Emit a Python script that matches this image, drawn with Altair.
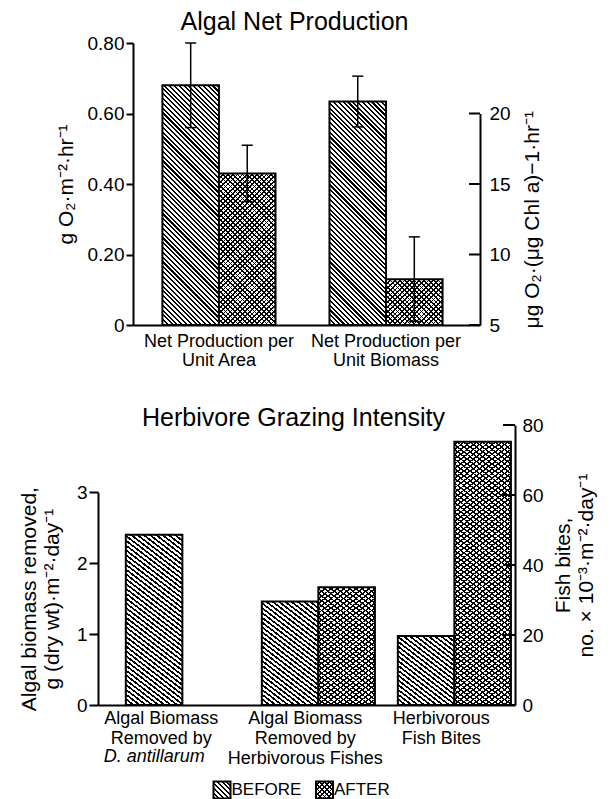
import math
import altair as alt
import pandas as pd

FONT = "Liberation Sans"

# ---------------- data ----------------
periods = ["BEFORE", "AFTER"]

top_categories = ["Net Production per|Unit Area", "Net Production per|Unit Biomass"]
area_values = [0.68, 0.43]          # g O2 m-2 hr-1 (left axis)
area_errors = [0.12, 0.08]
biomass_values = [20.85, 8.25]      # ug O2 (ug Chl a)-1 hr-1 (right axis)
biomass_errors = [1.8, 3.0]
top_left_ticks = [0, 0.2, 0.4, 0.6, 0.8]
top_right_ticks = [5, 10, 15, 20]

bottom_categories = [
    "Algal Biomass|Removed by",
    "Algal Biomass|Removed by|Herbivorous Fishes",
    "Herbivorous|Fish Bites",
]
urchin_periods = ["BEFORE"]
urchin_values = [2.40]              # g (dry wt) m-2 day-1 (left axis)
fishes_values = [1.46, 1.66]        # g (dry wt) m-2 day-1 (left axis)
bites_values = [19.7, 75.2]         # no. x 10^-3 m-2 day-1 (right axis)
bottom_left_ticks = [0, 1, 2, 3]
bottom_right_ticks = [0, 20, 40, 60, 80]
species_note = "D. antillarum"

# ---------------- layout ----------------
TW, TH, TEXTRA = 347, 282, 24
BW, BH = 417, 280
LW, LH = 271.5, 18
LEG_STEP = 102.5
TOP_PI, TOP_PO = 0.323, 0.2
BOT_PI, BOT_PO = 0.36, 0.213
TR_TOP = TH - 15 * TH / 20
BL_TOP = BH - 3 * 70.9
CLEAR = "rgba(0,0,0,0)"


def stripes(w, h, slope, ink="black", gap="white", period=3.4, thick=1.5):
    span = (w + h) / math.sqrt(2)
    c = (w + h) / (w * w + h * h)
    if slope > 0:
        x1, y1, x2, y2 = 0, 1, c * w, 1 - c * h
    else:
        x1, y1, x2, y2 = 1, 1, 1 - c * w, 1 - c * h
    p, t = period / span, thick / span
    stops = []
    k = 0
    while k * p < 1:
        a = k * p
        b = min(a + t, 1)
        n = min(a + p, 1)
        stops += [
            {"offset": round(a, 5), "color": ink},
            {"offset": round(b, 5), "color": ink},
            {"offset": round(b, 5), "color": gap},
            {"offset": round(n, 5), "color": gap},
        ]
        k += 1
    return {"gradient": "linear", "x1": x1, "y1": y1, "x2": x2, "y2": y2, "stops": stops}


def bar_width(W, n, pi, po):
    step = W / (n - pi + 2 * po)
    return step * (1 - pi) / 2


XO = alt.XOffset("period:N", scale=alt.Scale(domain=periods, paddingInner=0, paddingOuter=0))

# ---------------- scales & axes ----------------
TL_SCALE = alt.Scale(domain=[0, 0.8], range=[TH, 0], nice=False, zero=False)
TR_SCALE = alt.Scale(domain=[5, 20], range=[TH, TR_TOP], nice=False, zero=False)
BL_SCALE = alt.Scale(domain=[0, 3], range=[BH, BL_TOP], nice=False, zero=False)
BR_SCALE = alt.Scale(domain=[0, 80], range=[BH, 0], nice=False, zero=False)

TOP_X = alt.X(
    "cat:N",
    scale=alt.Scale(domain=top_categories, paddingInner=TOP_PI, paddingOuter=TOP_PO, align=0.44),
    axis=alt.Axis(title=None, labelExpr="split(datum.label, '|')", ticks=False, labelAngle=0,
                  labelFontSize=18, labelLineHeight=19, labelPadding=7, domainWidth=2,
                  offset=-TEXTRA, labelOverlap=False),
)
BOT_X = alt.X(
    "cat:N",
    scale=alt.Scale(domain=bottom_categories, paddingInner=BOT_PI, paddingOuter=BOT_PO, align=0.48),
    axis=alt.Axis(title=None, labelExpr="split(datum.label, '|')", ticks=False, labelAngle=0,
                  labelFontSize=18, labelLineHeight=20, labelPadding=4, domainWidth=2,
                  labelOverlap=False,
                  labelOffset={"condition": {"test": f"datum.value == '{bottom_categories[0]}'", "value": -8},
                               "value": 0}),
)

TL_AXIS = alt.Axis(orient="left", values=top_left_ticks,
                   labelExpr="datum.value == 0 ? '0' : format(datum.value, '.2f')",
                   tickSize=7, tickWidth=2, domainWidth=2, labelPadding=2, labelFontSize=19,
                   title="g O₂·m⁻²·hr⁻¹", titleFontSize=21, titleAngle=270,
                   titleBaseline="middle", titleX=-67)
TR_AXIS = alt.Axis(orient="right", values=top_right_ticks, ticks=False, tickSize=0, domainWidth=2,
                   labelPadding=9, labelFontSize=19,
                   title="μg O₂·(μg Chl a)−1·hr⁻¹", titleFontSize=21, titleAngle=270,
                   titleBaseline="middle", titleX=52)
BL_AXIS = alt.Axis(orient="left", values=bottom_left_ticks, format="d", tickSize=9, tickWidth=2,
                   domainWidth=2, labelPadding=2, labelFontSize=19,
                   title=["Algal biomass removed,", "g (dry wt)·m⁻²·day⁻¹"], titleFontSize=21,
                   titleLineHeight=23, titleAngle=270, titleBaseline="middle", titleX=-68.5)
BR_AXIS = alt.Axis(orient="right", values=bottom_right_ticks, format="d", ticks=False, tickSize=0,
                   domainWidth=2, labelPadding=7, labelFontSize=19,
                   title=["Fish bites,", "no. × 10⁻³·m⁻²·day⁻¹"], titleFontSize=21,
                   titleLineHeight=23, titleAngle=270, titleBaseline="middle", titleX=48)


def bars(df, x, yscale, yaxis, ppu, base, w, y2=None):
    out = []
    for i in range(len(df)):
        one = df.iloc[[i]]
        v = float(one["value"].iloc[0])
        p = one["period"].iloc[0]
        h = (v - base) * ppu
        enc = {"x": x, "xOffset": XO, "y": alt.Y("value:Q", scale=yscale, axis=yaxis)}
        if y2 is not None:
            enc["y2"] = y2
        if p == "BEFORE":
            out.append(alt.Chart(one).mark_bar(fill=stripes(w, h, 1), stroke="black",
                                               strokeWidth=2).encode(**enc))
        else:
            out.append(alt.Chart(one).mark_bar(fill=stripes(w, h, 1, thick=1.2)).encode(**enc))
            out.append(alt.Chart(one).mark_bar(fill=stripes(w, h, -1, gap=CLEAR, thick=1.2),
                                               stroke="black", strokeWidth=2).encode(**enc))
    return out


def errs(df, x, yscale, yaxis):
    rule = alt.Chart(df).mark_rule(color="black", strokeWidth=1.5).encode(
        x=x, xOffset=XO, y=alt.Y("lo:Q", scale=yscale, axis=yaxis), y2="hi:Q")
    cap_hi = alt.Chart(df).mark_tick(orient="horizontal", size=11, thickness=1.5, color="black",
                                     opacity=1).encode(
        x=x, xOffset=XO, y=alt.Y("hi:Q", scale=yscale, axis=yaxis))
    cap_lo = alt.Chart(df).mark_tick(orient="horizontal", size=11, thickness=1.5, color="black",
                                     opacity=1).encode(
        x=x, xOffset=XO, y=alt.Y("lo:Q", scale=yscale, axis=yaxis))
    return [rule, cap_hi, cap_lo]


def inward_ticks(values, yscale, yaxis, W, length):
    return alt.Chart(pd.DataFrame({"t": values})).mark_rule(color="black", strokeWidth=2).encode(
        y=alt.Y("t:Q", scale=yscale, axis=yaxis), x=alt.value(W - length), x2=alt.value(W))


# ---------------- top chart ----------------
tl_df = pd.DataFrame({"cat": top_categories[0], "period": periods, "value": area_values, "err": area_errors})
tr_df = pd.DataFrame({"cat": top_categories[1], "period": periods, "value": biomass_values, "err": biomass_errors})
for d in (tl_df, tr_df):
    d["lo"] = d["value"] - d["err"]
    d["hi"] = d["value"] + d["err"]

top_bw = bar_width(TW, 2, TOP_PI, TOP_PO)
top_left = alt.layer(*bars(tl_df, TOP_X, TL_SCALE, TL_AXIS, TH / 0.8, 0, top_bw),
                     *errs(tl_df, TOP_X, TL_SCALE, TL_AXIS))
top_right = alt.layer(*bars(tr_df, TOP_X, TR_SCALE, TR_AXIS, (TH - TR_TOP) / 15, 5, top_bw,
                            y2=alt.Y2(datum=5)),
                      *errs(tr_df, TOP_X, TR_SCALE, TR_AXIS),
                      inward_ticks(top_right_ticks, TR_SCALE, TR_AXIS, TW, 11))
top = alt.layer(top_left, top_right).resolve_scale(y="independent").properties(
    width=TW, height=TH + TEXTRA,
    title=alt.TitleParams("Algal Net Production", fontSize=25, fontWeight="normal", font=FONT,
                          anchor="middle", frame="group", offset=-1, dx=-12),
)

# ---------------- bottom chart ----------------
bl_df = pd.DataFrame({
    "cat": [bottom_categories[0]] * len(urchin_values) + [bottom_categories[1]] * len(fishes_values),
    "period": urchin_periods + periods,
    "value": urchin_values + fishes_values,
})
br_df = pd.DataFrame({"cat": bottom_categories[2], "period": periods, "value": bites_values})
note_df = pd.DataFrame({"cat": [bottom_categories[0]], "note": [species_note]})

bot_bw = bar_width(BW, 3, BOT_PI, BOT_PO)
note = alt.Chart(note_df).mark_text(font=FONT, fontSize=18, fontStyle="italic", dx=-15,
                                    baseline="alphabetic").encode(x=BOT_X, y=alt.value(BH + 57), text="note:N")
bottom_left = alt.layer(*bars(bl_df, BOT_X, BL_SCALE, BL_AXIS, (BH - BL_TOP) / 3, 0, bot_bw), note)
bottom_right = alt.layer(*bars(br_df, BOT_X, BR_SCALE, BR_AXIS, BH / 80, 0, bot_bw),
                         inward_ticks(bottom_right_ticks, BR_SCALE, BR_AXIS, BW, 12))
bottom = alt.layer(bottom_left, bottom_right).resolve_scale(y="independent").properties(
    width=BW, height=BH,
    title=alt.TitleParams("Herbivore Grazing Intensity", fontSize=25, fontWeight="normal", font=FONT,
                          anchor="middle", frame="group", offset=-15, dx=-13),
)

# ---------------- legend ----------------
legend_df = pd.DataFrame({"period": periods})
LX = alt.X("period:N", scale=alt.Scale(type="band", domain=periods, paddingInner=0,
                                       paddingOuter=(LW / LEG_STEP - 2) / 2, align=0),
           axis=None)
SQ = 17
leg_before = alt.Chart(legend_df.iloc[[0]]).mark_square(
    size=SQ * SQ, fill=stripes(SQ, SQ, 1), stroke="black", strokeWidth=2, opacity=1).encode(x=LX)
leg_after1 = alt.Chart(legend_df.iloc[[1]]).mark_square(
    size=SQ * SQ, fill=stripes(SQ, SQ, 1, thick=1.2), opacity=1).encode(x=LX)
leg_after2 = alt.Chart(legend_df.iloc[[1]]).mark_square(
    size=SQ * SQ, fill=stripes(SQ, SQ, -1, gap=CLEAR, thick=1.2), stroke="black", strokeWidth=2,
    opacity=1).encode(x=LX)
leg_text = alt.Chart(legend_df).mark_text(font=FONT, fontSize=17, align="left", dx=9.5,
                                          baseline="middle").encode(x=LX, text="period:N")
legend = alt.layer(leg_before, leg_after1, leg_after2, leg_text).properties(width=LW, height=LH)

chart = alt.vconcat(top, bottom, legend, spacing=76, bounds="flush", center=True).properties(
    padding={"left": 10, "top": 2, "right": 5, "bottom": 0}
).configure_view(strokeWidth=0).configure_axis(
    labelFont=FONT, titleFont=FONT, labelColor="black", titleColor="black",
    domainColor="black", tickColor="black", titleFontWeight="normal", grid=False,
).configure_title(font=FONT, color="black")

chart.save("out.html", embed_options={"renderer": "svg", "actions": False})
